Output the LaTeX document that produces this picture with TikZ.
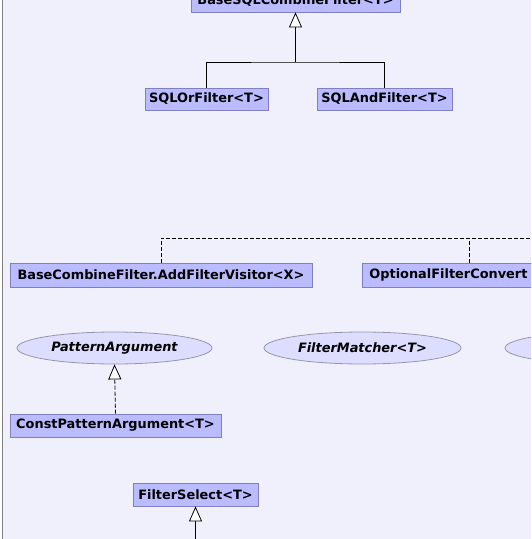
\documentclass[tikz,border=0pt]{standalone}
\usepackage{fontspec}
\setmainfont{DejaVu Sans}
\usetikzlibrary{arrows.meta,shapes.geometric}
\definecolor{bg}{RGB}{240,240,252}
\definecolor{clsfill}{RGB}{187,187,255}
\definecolor{clsdraw}{RGB}{128,128,192}
\definecolor{ifcfill}{RGB}{221,221,255}
\definecolor{ifcdraw}{RGB}{150,150,170}
\tikzset{
  cls/.style={draw=clsdraw, fill=clsfill, rectangle, inner sep=0pt, line width=0.8pt,
    font=\fontsize{12.9}{15}\selectfont\bfseries, text=black},
  ifc/.style={draw=ifcdraw, fill=ifcfill, ellipse, inner sep=0pt, line width=0.8pt,
    font=\fontsize{12.9}{15}\selectfont\bfseries\itshape, text=black},
  gen/.style={-{Triangle[open, fill=white, width=13pt, length=15pt]}, line width=0.8pt, black},
  real/.style={gen, dash pattern=on 4pt off 2pt},
  dep/.style={line width=0.8pt, black, dash pattern=on 4pt off 2pt},
}
\begin{document}
\begin{tikzpicture}[x=1pt, y=-1pt]
\useasboundingbox (0,0) rectangle (531,539);
\clip (0,0) rectangle (531,539);
\fill[bg] (2.5,0) rectangle (531,539);
\draw[gray, line width=1pt] (2.5,0) -- (2.5,539);

\node[cls, minimum width=209pt, minimum height=23pt] (bsql) at (295.5,0.5) {BaseSQLCombineFilter<T>};
\node[cls, minimum width=123pt, minimum height=22pt] (sqlor) at (206.5,99) {SQLOrFilter<T>};
\node[cls, minimum width=135pt, minimum height=22pt] (sqland) at (384.5,99) {SQLAndFilter<T>};

\node[cls, minimum width=302pt, minimum height=24pt] (addvis) at (161,275) {BaseCombineFilter.AddFilterVisitor<X>};
\node[cls, minimum width=220pt, minimum height=24pt, anchor=west, text width=220pt, align=left] (optconv) at (362,275) {\hspace*{7pt}OptionalFilterConvert};

\node[ifc, minimum width=195pt, minimum height=32pt] (patarg) at (114.5,348) {PatternArgument};
\node[ifc, minimum width=197pt, minimum height=32pt] (fmatch) at (362.5,348) {FilterMatcher<T>};
\node[ifc, minimum width=197pt, minimum height=32pt] (third) at (603.5,348) {};

\node[cls, minimum width=211pt, minimum height=23pt] (constpat) at (115.5,425.5) {ConstPatternArgument<T>};
\node[cls, minimum width=125pt, minimum height=23pt] (fsel) at (195.5,494.5) {FilterSelect<T>};

\coordinate (joinA) at (295.5,62);
\draw[line width=0.8pt] (sqlor.north) |- (joinA) -| (sqland.north);
\draw[gen] (joinA) -- (bsql.south);

\coordinate (dashR) at (540,238);
\draw[dep] (addvis.north) |- (dashR);
\draw[dep] (469,263) -- (469,238);

\draw[real] (constpat.north) -- (patarg.south);

\coordinate (fselB) at (195.5,545);
\draw[gen] (fselB) -- (fsel.south);
\end{tikzpicture}
\end{document}
